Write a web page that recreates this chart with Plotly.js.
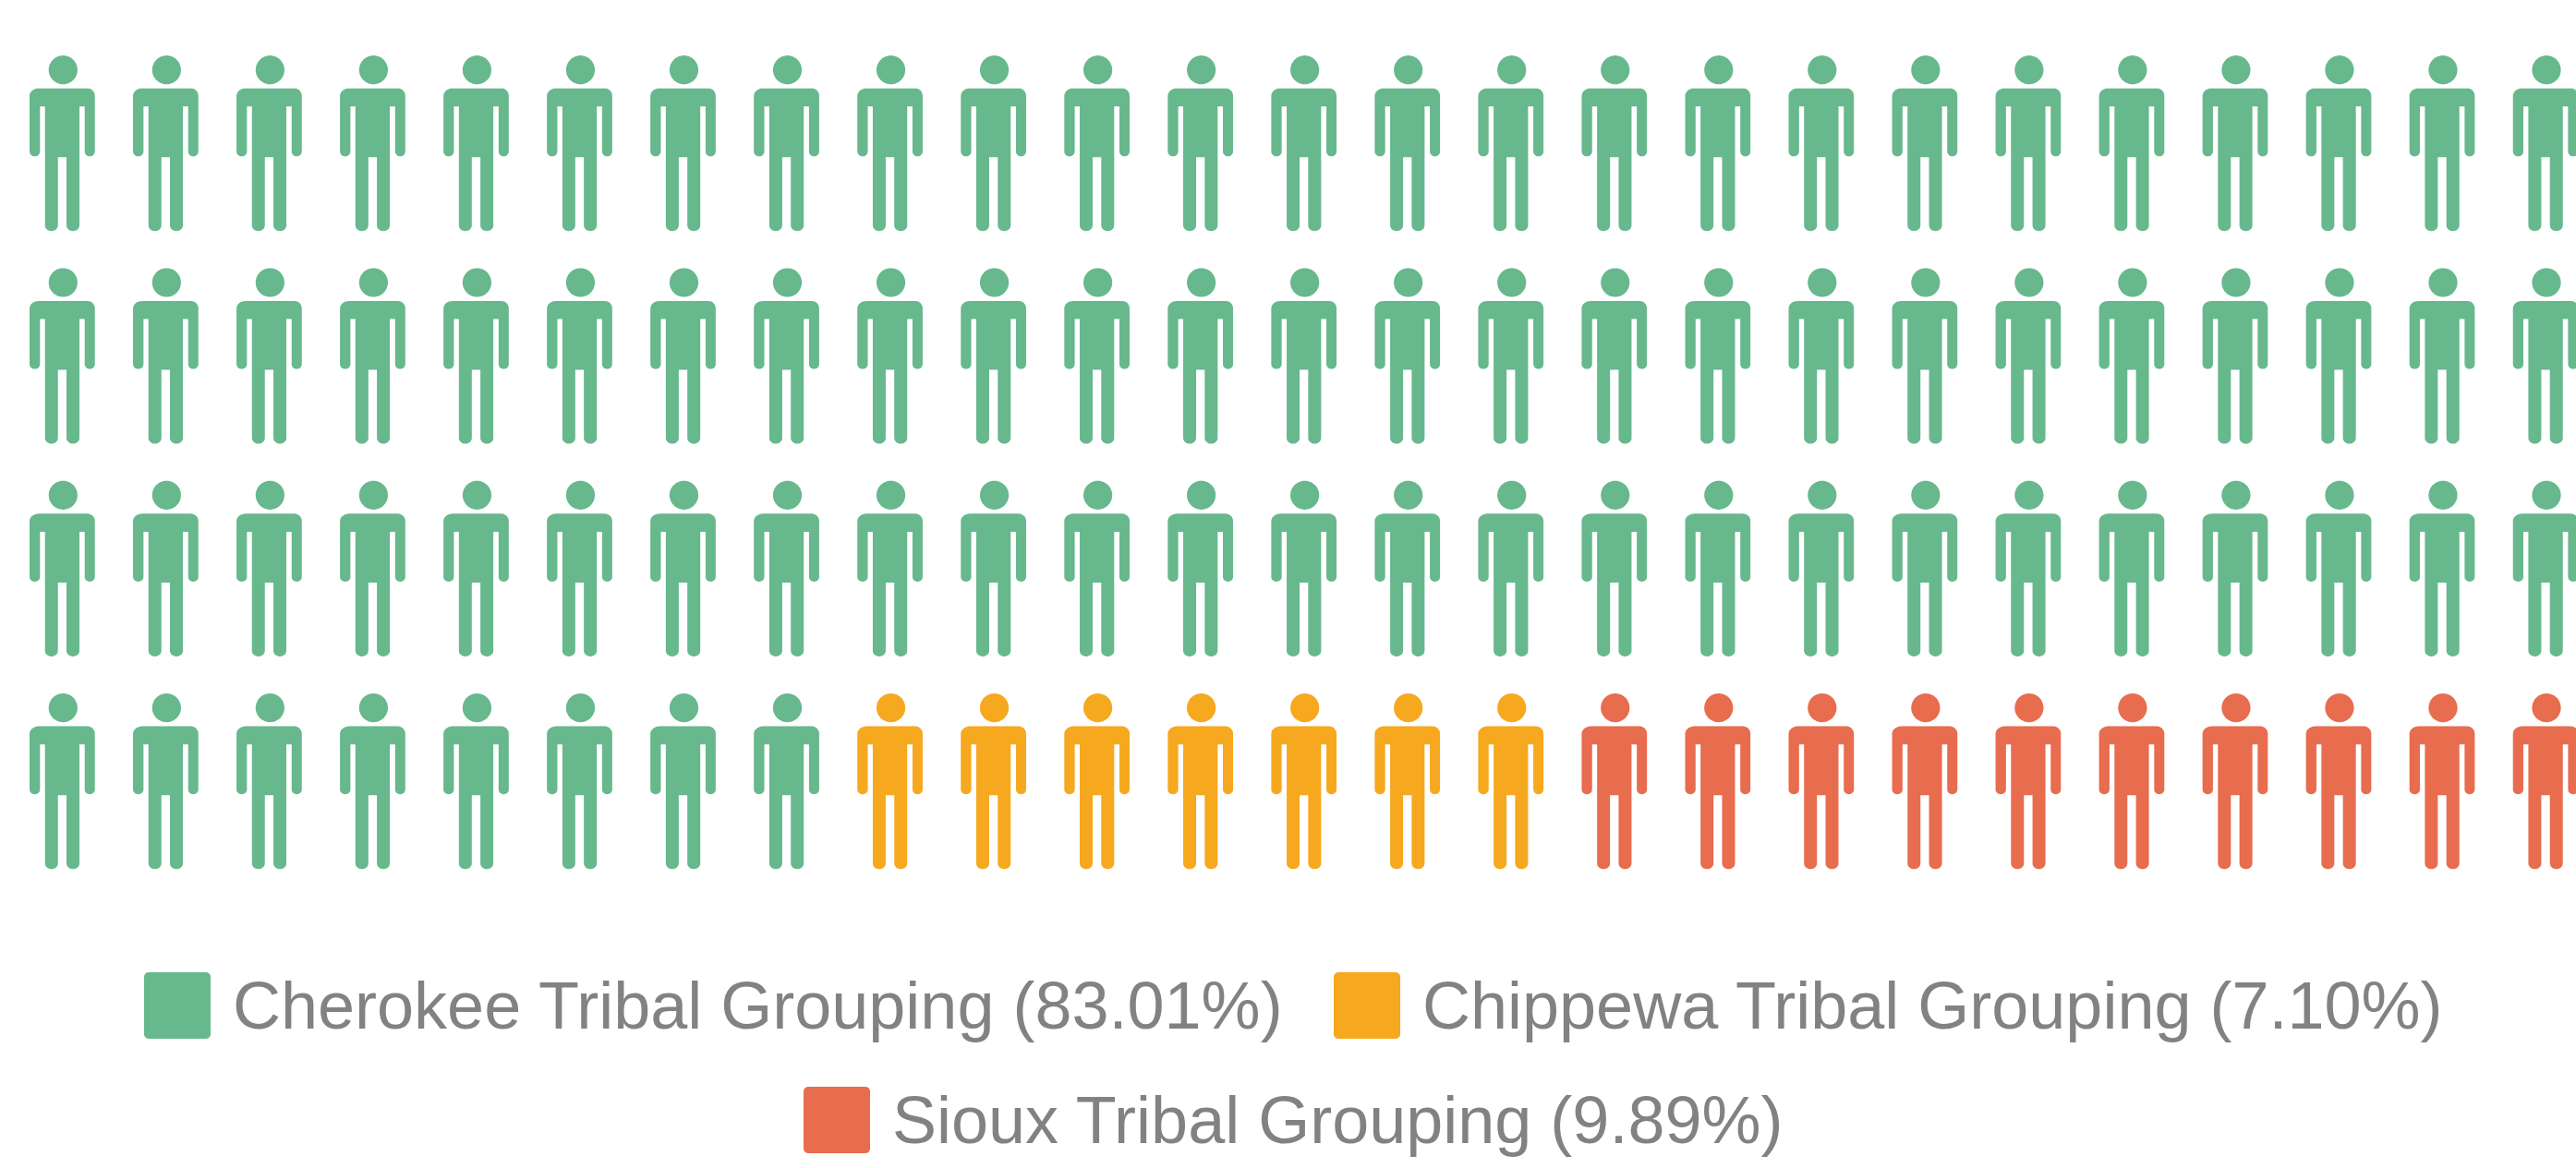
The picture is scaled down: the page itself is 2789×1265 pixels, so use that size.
<!DOCTYPE html>
<html>
<head>
<meta charset="utf-8">
<script src="https://cdn.plot.ly/plotly-3.0.1.min.js"></script>
<style>html,body{margin:0;padding:0;background:#fff;overflow:hidden}#chart{width:2789px;height:1265px}</style>
</head>
<body>
<div id="chart"></div>
<script>
// ---- data ----
const categories = ['Cherokee Tribal Grouping', 'Chippewa Tribal Grouping', 'Sioux Tribal Grouping'];
const shares = [83.01, 7.10, 9.89];
const colors = ['#67B88D', '#F6A81F', '#E86C4E'];
const columnsPerRow = 25;

// ---- page geometry (pixels) ----
const W = 2789, H = 1265;
const originX = 68.3, originY = 75.7, stepX = 112.03, stepY = 230.3;
const px2x = p => (p - originX) / stepX;
const py2y = p => (p - originY) / stepY;

function arc(cx, cy, rx, ry, a0, a1, n) {
  const out = [];
  for (let i = 0; i <= n; i++) {
    const a = (a0 + (a1 - a0) * i / n) * Math.PI / 180;
    out.push([cx + rx * Math.cos(a), cy + ry * Math.sin(a)]);
  }
  return out;
}
// one person glyph, offsets in pixels from the head centre
const headShape = arc(0, 0, 15.6, 15.6, 0, 360, 48);
const armOutL = -36.3, armOutR = 34.4, armInL = -25, armInR = 23.4, torsoL = -19.6, torsoR = 17.7, gapL = -5.6, gapR = 3.7;
const shoulderY = 20, pitY = 39.6, handY = 93.6, crotchY = 94.6, footY = 174.6;
const bodyShape = [].concat(
  arc(armOutL + 10, shoulderY + 8, 10, 8, 180, 270, 8),
  arc(armOutR - 8, shoulderY + 8, 8, 8, 270, 360, 8),
  arc((armOutR + armInR) / 2, handY - 5, (armOutR - armInR) / 2, 5, 0, 180, 12),
  [[armInR, pitY], [torsoR, pitY]],
  arc((torsoR + gapR) / 2, footY - 6, (torsoR - gapR) / 2, 6, 0, 180, 12),
  [[gapR, crotchY], [gapL, crotchY]],
  arc((gapL + torsoL) / 2, footY - 6, (gapL - torsoL) / 2, 6, 0, 180, 12),
  [[torsoL, pitY], [armInL, pitY]],
  arc((armInL + armOutL) / 2, handY - 5, (armInL - armOutL) / 2, 5, 0, 180, 12),
  [[armOutL, shoulderY + 8]]
);
function roundedSquare(x0, y0, x1, y1, r) {
  return [].concat(
    arc(x0 + r, y0 + r, r, r, 180, 270, 5),
    arc(x1 - r, y0 + r, r, r, 270, 360, 5),
    arc(x1 - r, y1 - r, r, r, 0, 90, 5),
    arc(x0 + r, y1 - r, r, r, 90, 180, 5),
    [[x0, y0 + r]]
  );
}

// icons per category: one icon per percentage point, filled row by row
const counts = shares.map(Math.round);
const traces = [];
let index = 0;
categories.forEach((name, c) => {
  const xs = [], ys = [];
  for (let k = 0; k < counts[c]; k++, index++) {
    const col = index % columnsPerRow, row = Math.floor(index / columnsPerRow);
    [headShape, bodyShape].forEach(part => {
      part.forEach(p => { xs.push(col + p[0] / stepX); ys.push(row + p[1] / stepY); });
      xs.push(null); ys.push(null);
    });
  }
  traces.push({
    type: 'scatter', mode: 'lines', name: name, x: xs, y: ys,
    fill: 'toself', fillcolor: colors[c], line: {width: 0, color: colors[c], simplify: false},
    hoverinfo: 'name', showlegend: false
  });
});

// legend entries: swatch left edge, swatch top edge, text left edge
const legendPos = [[156, 1053, 250], [1444, 1053, 1538], [870, 1177, 964]];
const swatch = 72;
const annotations = categories.map((name, c) => {
  const [sx, sy, tx] = legendPos[c];
  const sq = roundedSquare(sx, sy, sx + swatch, sy + swatch, 5);
  traces.push({
    type: 'scatter', mode: 'lines', name: name + ' key',
    x: sq.map(p => px2x(p[0])), y: sq.map(p => py2y(p[1])),
    fill: 'toself', fillcolor: colors[c], line: {width: 0, color: colors[c], simplify: false},
    hoverinfo: 'skip', showlegend: false
  });
  return {
    xref: 'paper', yref: 'paper', x: tx / W, y: 1 - (sy + swatch / 2) / H,
    xanchor: 'left', yanchor: 'middle', showarrow: false, align: 'left',
    text: name + ' (' + shares[c].toFixed(2) + '%)',
    font: {family: 'Liberation Sans', size: 72, color: '#828282'}
  };
});

const layout = {
  width: W, height: H, margin: {l: 0, r: 0, t: 0, b: 0, pad: 0},
  paper_bgcolor: '#ffffff', plot_bgcolor: '#ffffff', showlegend: false,
  xaxis: {visible: false, range: [px2x(0), px2x(W)], fixedrange: true},
  yaxis: {visible: false, range: [py2y(H), py2y(0)], fixedrange: true},
  annotations: annotations
};
Plotly.newPlot('chart', traces, layout, {displayModeBar: false, responsive: false});
</script>
</body>
</html>
